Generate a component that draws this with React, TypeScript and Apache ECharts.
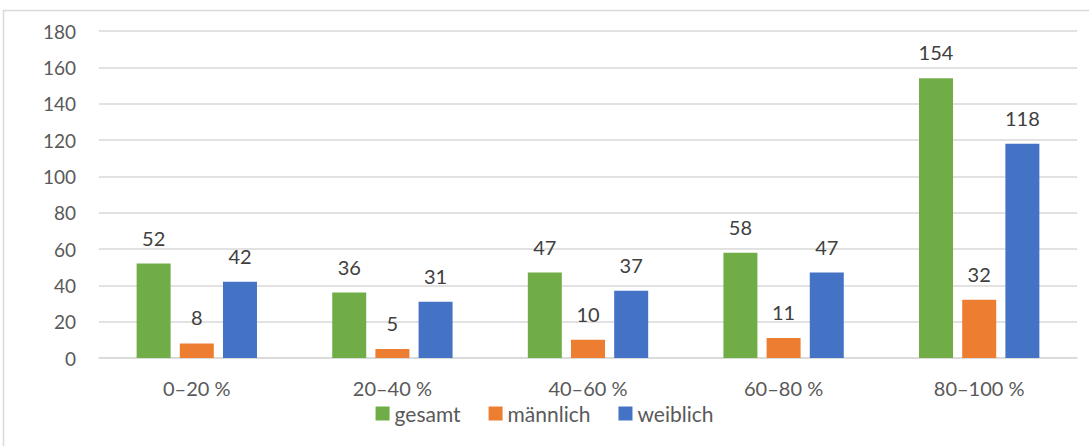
import React, { useEffect, useRef } from "react";
import * as echarts from "echarts";

const categories = ["0–20 %", "20–40 %", "40–60 %", "60–80 %", "80–100 %"];
const gesamt = [52, 36, 47, 58, 154];
const maennlich = [8, 5, 10, 11, 32];
const weiblich = [42, 31, 37, 47, 118];

const FONT = "Lato, 'Open Sans', sans-serif";

export default function App() {
  const ref = useRef<HTMLDivElement>(null);
  useEffect(() => {
    if (!ref.current) return;
    const chart = echarts.init(ref.current, null, { renderer: "svg" });
    const label = {
      show: true,
      position: "top" as const,
      distance: 16,
      fontSize: 20,
      color: "#404040",
      fontFamily: FONT,
    };
    chart.setOption({
      animation: false,
      backgroundColor: "#ffffff",
      textStyle: { fontFamily: FONT },
      graphic: [
        {
          type: "rect",
          shape: { x: 3.5, y: 10.5, width: 1100, height: 450 },
          style: { fill: "none", stroke: "#d9d9d9", lineWidth: 1.5 },
          silent: true,
          z: -10,
        },
      ],
      grid: { left: 99, right: 12, top: 31, bottom: 88, containLabel: false },
      legend: {
        bottom: 17,
        left: "center",
        itemWidth: 14,
        itemHeight: 14,
        itemGap: 28,
        icon: "rect",
        textStyle: { fontSize: 21, color: "#595959", fontFamily: FONT },
        data: ["gesamt", "männlich", "weiblich"],
      },
      xAxis: {
        type: "category",
        data: categories,
        axisLine: { lineStyle: { color: "#d9d9d9", width: 1.5 } },
        axisTick: { show: false },
        axisLabel: { fontSize: 20, color: "#595959", margin: 20, fontFamily: FONT },
      },
      yAxis: {
        type: "value",
        min: 0,
        max: 180,
        interval: 20,
        axisLine: { show: false },
        axisTick: { show: false },
        splitLine: { lineStyle: { color: "#d9d9d9", width: 1.5 } },
        axisLabel: { fontSize: 19, color: "#595959", margin: 23, fontFamily: FONT },
      },
      series: [
        {
          name: "gesamt",
          type: "bar",
          data: gesamt,
          barWidth: 34,
          barGap: "27%",
          itemStyle: { color: "#70AD47" },
          label,
        },
        {
          name: "männlich",
          type: "bar",
          data: maennlich,
          barWidth: 34,
          barGap: "27%",
          itemStyle: { color: "#ED7D31" },
          label,
        },
        {
          name: "weiblich",
          type: "bar",
          data: weiblich,
          barWidth: 34,
          barGap: "27%",
          itemStyle: { color: "#4472C4" },
          label,
        },
      ],
    });
    return () => chart.dispose();
  }, []);
  return (
    <div
      ref={ref}
      style={{ position: "fixed", left: 0, top: 0, width: 1089, height: 446 }}
    />
  );
}
